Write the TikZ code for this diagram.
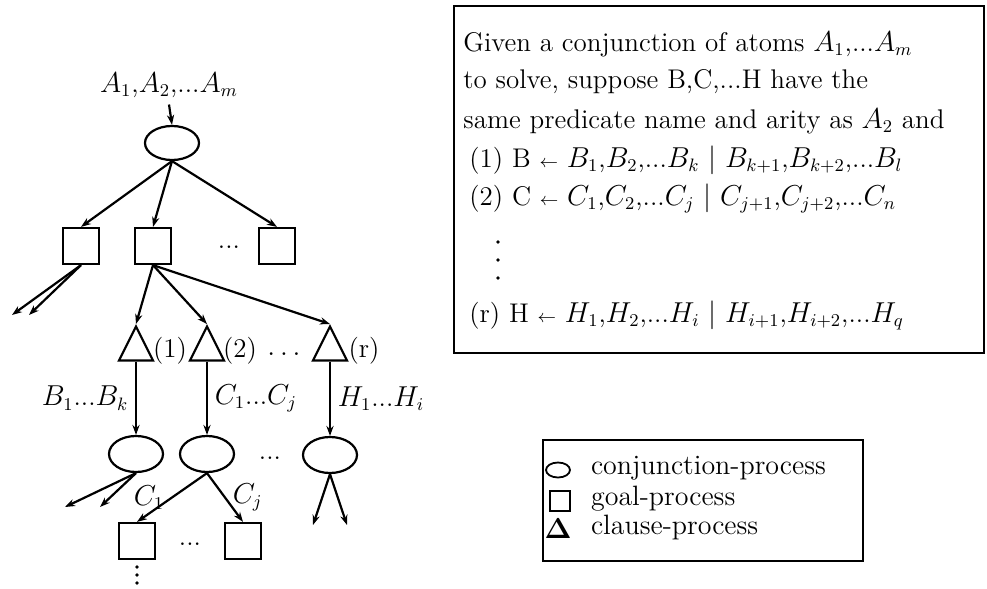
\documentclass[tikz,border=0pt]{standalone}
\usetikzlibrary{shapes.geometric,arrows.meta,positioning}
\tikzset{
  conj/.style={ellipse,draw,line width=1.1pt,minimum width=27pt,minimum height=17pt,inner sep=0pt},
  goal/.style={rectangle,draw,line width=1.1pt,minimum size=18pt,inner sep=0pt},
  clause/.style={isosceles triangle,isosceles triangle apex angle=53,
    isosceles triangle stretches,shape border rotate=90,draw,line width=1.1pt,
    minimum width=17pt,minimum height=17pt,inner sep=0pt},
  link/.style={line width=1.1pt,-{Stealth[length=5pt,width=3.6pt]}},
  panel/.style={draw,line width=1.1pt,inner sep=0pt},
  txt/.style={anchor=base west,inner sep=0pt},
}
\newcommand{\lto}{${\scriptstyle\leftarrow}$}
\begin{document}
\begin{tikzpicture}[x=0.5pt,y=-0.5pt,font=\fontsize{13.5}{16}\selectfont]
  \useasboundingbox (0,0) rectangle (987,589);

  % the tree of processes
  \node (a0) at (169,85) {$A_1$,$A_2$,...$A_m$};
  \node[conj] (e0) at (172,143) {};
  \node[goal] (g1) at (81,246) {};
  \node[goal] (g2) at (153,246) {};
  \node[goal] (g3) at (277,246) {};
  \node (d1) at (229,247) {...};
  \draw[link] (a0.south) -- (e0.north);
  \foreach \g in {g1,g2,g3}
    \draw[link] (e0.south) -- (\g.north);

  \coordinate (o1) at (12,315);
  \coordinate (o2) at (29,315);
  \draw[link] (g1.south) -- (o1);
  \draw[link] (g1.south) -- (o2);

  \node[clause] (t1) at (136,350) {};
  \node[clause] (t2) at (207,350) {};
  \node[clause] (t3) at (330,350) {};
  \node (n1) at (170,351) {(1)};
  \node (n2) at (240,351) {(2)};
  \node (nr) at (364,351) {(r)};
  \node (d2) at (284,354) {$\dots$};
  \foreach \t in {t1,t2,t3}
    \draw[link] (g2.south) -- (\t.apex);

  \node[conj,minimum height=18pt] (e1) at (136,454) {};
  \node[conj,minimum height=18pt] (e2) at (207,454) {};
  \node[conj,minimum height=18pt] (e3) at (330,455) {};
  \node (d3) at (270,458) {...};
  \draw[link] (t1.lower side) -- node[left] {$B_1$...$B_k$} (e1.north);
  \draw[link] (t2.lower side) -- node[right] {$C_1$...$C_j$} (e2.north);
  \draw[link] (t3.lower side) -- node[right] {$H_1$...$H_i$} (e3.north);

  \coordinate (o3) at (65,507);
  \coordinate (o4) at (100,507);
  \draw[link] (e1.south) -- (o3);
  \draw[link] (e1.south) -- (o4);

  \node[goal] (g4) at (137,541) {};
  \node[goal] (g5) at (243,541) {};
  \node (d4) at (190,544) {...};
  \foreach \y in {567,575,583}
    \fill (137,\y) circle (0.9pt);
  \draw[link] (e2.south) -- node[left] {$C_1$} (g4.north);
  \draw[link] (e2.south) -- node[right] {$C_j$} (g5.north);

  \coordinate (o5) at (313,525);
  \coordinate (o6) at (347,525);
  \draw[link] (e3.south) -- (o5);
  \draw[link] (e3.south) -- (o6);

  % the clauses
  \node[panel,minimum width=265pt,minimum height=173.5pt] (rules) at (719,179.5) {};
  \node[txt] (l1) at (463,51) {Given a conjunction of atoms $A_1$,...$A_m$};
  \node[txt] (l2) at (463,89) {to solve, suppose B,C,...H have the};
  \node[txt] (l3) at (463,128) {same predicate name and arity as $A_2$ and};
  \node[txt] (l4) at (469,167) {(1) B \lto\ $B_1$,$B_2$,...$B_k$ $\mid$ $B_{k+1}$,$B_{k+2}$,...$B_l$};
  \node[txt] (l5) at (469,205) {(2) C \lto\ $C_1$,$C_2$,...$C_j$ $\mid$ $C_{j+1}$,$C_{j+2}$,...$C_n$};
  \foreach \y in {242,260,278}
    \fill (498,\y) circle (0.9pt);
  \node[txt] (l6) at (469,322) {(r) H \lto\ $H_1$,$H_2$,...$H_i$ $\mid$ $H_{i+1}$,$H_{i+2}$,...$H_q$};

  % the legend
  \node[panel,minimum width=160pt,minimum height=60.5pt] (key) at (703,500.5) {};
  \node[conj,minimum width=12pt,minimum height=7.5pt,line width=0.9pt] (k1) at (558,470) {};
  \node[goal,minimum size=10pt,line width=0.9pt] (k2) at (560,501) {};
  \node (k3) at (558,529) {$\mathbf{\Delta}$};
  \node[anchor=west,font=\fontsize{14}{16}\selectfont] (k1t) at (584,468) {conjunction-process};
  \node[anchor=west,font=\fontsize{14}{16}\selectfont] (k2t) at (584,499) {goal-process};
  \node[anchor=west,font=\fontsize{14}{16}\selectfont] (k3t) at (584,527) {clause-process};
\end{tikzpicture}
\end{document}
